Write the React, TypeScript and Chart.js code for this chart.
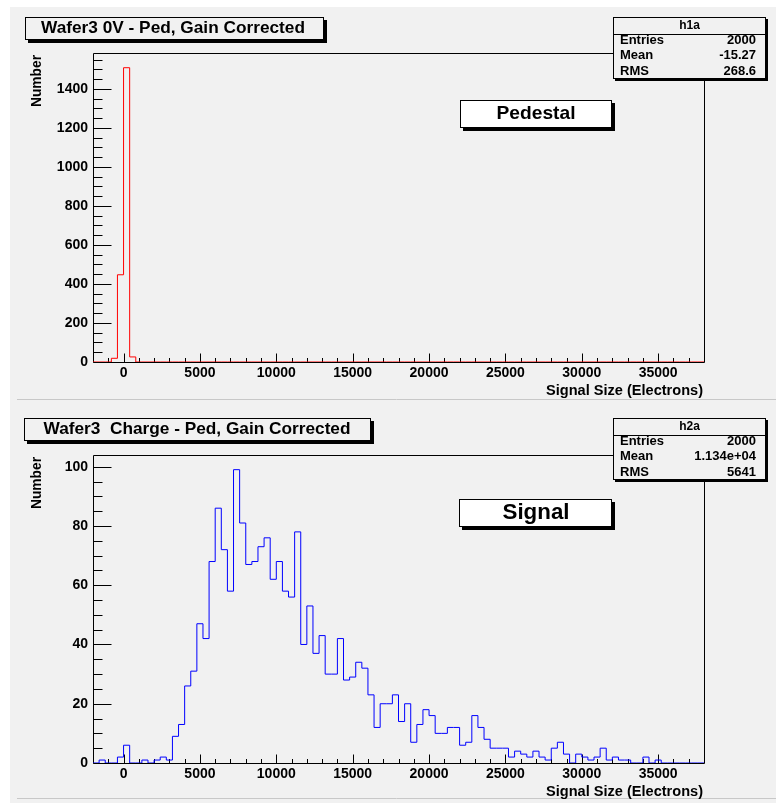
import React, { useEffect, useRef } from "react";
import { Chart, registerables } from "chart.js";

Chart.register(...registerables);

// ---- Histogram binning (100 bins of 400 electrons from -2000 to 38000) ----
const X_MIN = -2000;
const X_MAX = 38000;
const BIN_WIDTH = 400;

// ---- Data: h1a (pedestal) bin contents ----
const pedestalCounts = [
  0, 0, 0, 19, 447, 1508, 26, 0, 0, 0,
  0, 0, 0, 0, 0, 0, 0, 0, 0, 0,
  0, 0, 0, 0, 0, 0, 0, 0, 0, 0,
  0, 0, 0, 0, 0, 0, 0, 0, 0, 0,
  0, 0, 0, 0, 0, 0, 0, 0, 0, 0,
  0, 0, 0, 0, 0, 0, 0, 0, 0, 0,
  0, 0, 0, 0, 0, 0, 0, 0, 0, 0,
  0, 0, 0, 0, 0, 0, 0, 0, 0, 0,
  0, 0, 0, 0, 0, 0, 0, 0, 0, 0,
  0, 0, 0, 0, 0, 0, 0, 0, 0, 0,
];

// ---- Data: h2a (signal) bin contents ----
const signalCounts = [
  0, 1, 0, 0, 2, 6, 0, 0, 1, 0,
  1, 2, 1, 9, 13, 26, 31, 47, 42, 68,
  86, 72, 58, 99, 81, 67, 68, 73, 76, 62,
  68, 58, 56, 78, 40, 53, 37, 43, 30, 30,
  42, 28, 29, 34, 32, 23, 12, 20, 20, 23,
  14, 20, 7, 13, 18, 16, 10, 10, 12, 12,
  6, 7, 16, 12, 8, 5, 5, 5, 2, 4,
  3, 2, 4, 2, 1, 5, 7, 3, 0, 3,
  2, 1, 2, 5, 1, 2, 1, 1, 0, 0,
  2, 0, 1, 0, 0, 0, 0, 0, 0, 0,
];

// ---- Tick labels ----
const xTickValues = [0, 5000, 10000, 15000, 20000, 25000, 30000, 35000];
const pedYTickValues = [0, 200, 400, 600, 800, 1000, 1200, 1400];
const sigYTickValues = [0, 20, 40, 60, 80, 100];

// ---- Texts ----
const statNames = ["Entries", "Mean", "RMS"];
const pedStatValues = ["2000", "-15.27", "268.6"];
const sigStatValues = ["2000", "1.134e+04", "5641"];
const pedTitle = "Wafer3 0V - Ped, Gain Corrected";
const sigTitle = "Wafer3  Charge - Ped, Gain Corrected";
const xAxisTitle = "Signal Size (Electrons)";
const yAxisTitle = "Number";

const FONT = "'Liberation Sans', Arial, Helvetica, sans-serif";
const PANEL = "#f1f1f1";

function drawText(
  ctx: CanvasRenderingContext2D,
  text: string,
  x: number,
  y: number,
  size: number,
  align: CanvasTextAlign,
  targetW?: number,
  rotate?: boolean
) {
  ctx.save();
  ctx.font = `bold ${size}px ${FONT}`;
  const w = ctx.measureText(text).width;
  const sx = targetW ? targetW / w : 1;
  ctx.translate(x, y);
  if (rotate) ctx.rotate(-Math.PI / 2);
  ctx.scale(sx, 1);
  ctx.fillStyle = "#000";
  ctx.textBaseline = "middle";
  ctx.textAlign = align;
  ctx.fillText(text, 0, 0);
  ctx.restore();
}

function shadowBox(
  ctx: CanvasRenderingContext2D,
  x: number,
  y: number,
  w: number,
  h: number,
  fill: string,
  off: number
) {
  ctx.save();
  ctx.fillStyle = "#000";
  ctx.fillRect(x + off, y + off, w, h);
  ctx.fillStyle = fill;
  ctx.fillRect(x, y, w, h);
  ctx.strokeStyle = "#000";
  ctx.lineWidth = 1;
  ctx.strokeRect(x + 0.5, y + 0.5, w - 1, h - 1);
  ctx.restore();
}

type PanelCfg = {
  canvasH: number;
  panelTop: number;
  sepY: number;
  frameTop: number;
  frameBottom: number;
  color: string;
  counts: number[];
  yTicks: number[];
  yMinorStep: number;
  statsName: string;
  statsValues: string[];
  title: string;
  titleBox: [number, number, number, number];
  titleCx: number;
  titleW: number;
  statsBox: [number, number, number, number];
  labelText: string;
  labelBox: [number, number, number, number];
  labelCx: number;
  labelCy: number;
  labelSize: number;
  labelW: number;
  yTitleTop: number;
  xTitleCy: number;
};

function makeConfig(cfg: PanelCfg): any {
  // step outline: each bin edge carries the content of the bin it opens
  const points = cfg.counts.map((c, i) => ({ x: X_MIN + i * BIN_WIDTH, y: c }));
  points.push({ x: X_MAX, y: cfg.counts[cfg.counts.length - 1] });
  const yMax = 1.05 * Math.max(...cfg.counts);

  const plugin = {
    id: "rootStyle",
    beforeDraw(chart: any) {
      const ctx = chart.ctx as CanvasRenderingContext2D;
      ctx.save();
      ctx.fillStyle = "#ffffff";
      ctx.fillRect(0, 0, chart.width, chart.height);
      ctx.fillStyle = PANEL;
      ctx.fillRect(10, cfg.panelTop, chart.width - 10, chart.height - cfg.panelTop);
      ctx.strokeStyle = "#c8c8c8";
      ctx.lineWidth = 1;
      ctx.beginPath();
      ctx.moveTo(17, cfg.sepY);
      ctx.lineTo(chart.width, cfg.sepY);
      ctx.stroke();
      ctx.restore();
    },
    beforeDatasetsDraw(chart: any) {
      const ctx = chart.ctx as CanvasRenderingContext2D;
      const a = chart.chartArea;
      const xs = chart.scales.x;
      const ys = chart.scales.y;
      const L = Math.round(a.left) + 0.5;
      const R = Math.round(a.right) + 0.5;
      const T = Math.round(a.top) + 0.5;
      const B = Math.round(a.bottom) + 0.5;
      ctx.save();
      ctx.strokeStyle = "#000";
      ctx.lineWidth = 1;
      ctx.beginPath();
      ctx.moveTo(L, T);
      ctx.lineTo(R, T);
      ctx.lineTo(R, B);
      ctx.lineTo(L, B);
      ctx.closePath();
      ctx.stroke();
      // y ticks (inside)
      ctx.beginPath();
      for (let v = 0; v <= yMax; v += cfg.yMinorStep) {
        const p = Math.round(ys.getPixelForValue(v)) + 0.5;
        const major = cfg.yTicks.includes(v);
        ctx.moveTo(L, p);
        ctx.lineTo(L + (major ? 18 : 9), p);
      }
      // x ticks (inside)
      for (let v = -1000; v < X_MAX; v += 1000) {
        const p = Math.round(xs.getPixelForValue(v)) + 0.5;
        const major = xTickValues.includes(v);
        ctx.moveTo(p, B);
        ctx.lineTo(p, B - (major ? 9 : 4.5));
      }
      ctx.stroke();
      ctx.restore();
    },
    afterDraw(chart: any) {
      const ctx = chart.ctx as CanvasRenderingContext2D;
      // title box
      const [tx, ty, tw, th] = cfg.titleBox;
      shadowBox(ctx, tx, ty, tw, th, PANEL, 3);
      drawText(ctx, cfg.title, cfg.titleCx, ty + th / 2, 17, "center", cfg.titleW);
      // stats box
      const [sx, sy, sw, sh] = cfg.statsBox;
      shadowBox(ctx, sx, sy, sw, sh, PANEL, 2);
      drawText(ctx, cfg.statsName, sx + sw / 2, sy + 9, 12, "center");
      ctx.save();
      ctx.strokeStyle = "#000";
      ctx.lineWidth = 1;
      ctx.beginPath();
      ctx.moveTo(sx, Math.round(sy + 16.5) + 0.5);
      ctx.lineTo(sx + sw, Math.round(sy + 16.5) + 0.5);
      ctx.stroke();
      ctx.restore();
      const rowY = [23, 38.5, 54];
      statNames.forEach((n, i) => {
        drawText(ctx, n, sx + 7, sy + rowY[i], 13, "left");
        drawText(ctx, cfg.statsValues[i], sx + sw - 10, sy + rowY[i], 13, "right");
      });
      // label box
      const [lx, ly, lw, lh] = cfg.labelBox;
      shadowBox(ctx, lx, ly, lw, lh, "#ffffff", 3);
      drawText(ctx, cfg.labelText, cfg.labelCx, cfg.labelCy, cfg.labelSize, "center", cfg.labelW);
      // axis titles
      drawText(ctx, yAxisTitle, 37, cfg.yTitleTop, 14, "right", 52, true);
      drawText(ctx, xAxisTitle, 703, cfg.xTitleCy, 14, "right", 157);
    },
  };

  const tickFont = { family: FONT, size: 14, weight: "bold" as const };

  return {
    type: "line",
    data: {
      datasets: [
        {
          data: points,
          borderColor: cfg.color,
          borderWidth: 1,
          pointRadius: 0,
          stepped: "before",
          fill: false,
        },
      ],
    },
    options: {
      animation: false,
      responsive: false,
      maintainAspectRatio: false,
      events: [],
      layout: { padding: { left: 0, top: cfg.frameTop, right: 776 - 704, bottom: 0 } },
      plugins: {
        legend: { display: false },
        tooltip: { enabled: false },
        title: { display: false },
      },
      scales: {
        x: {
          type: "linear",
          min: X_MIN,
          max: X_MAX,
          grid: { display: false, drawTicks: false },
          border: { display: false },
          ticks: {
            padding: 3,
            color: "#000",
            font: tickFont,
            maxRotation: 0,
            autoSkip: false,
            callback: (v: any) => String(v),
          },
          afterBuildTicks: (s: any) => {
            s.ticks = xTickValues.map((v) => ({ value: v }));
          },
          afterFit: (s: any) => {
            s.height = cfg.canvasH - cfg.frameBottom;
            s.paddingLeft = 0;
            s.paddingRight = 0;
            s.paddingTop = 0;
            s.paddingBottom = 0;
          },
        },
        y: {
          type: "linear",
          min: 0,
          max: yMax,
          grid: { display: false, drawTicks: false },
          border: { display: false },
          ticks: {
            padding: 5,
            color: "#000",
            font: tickFont,
            autoSkip: false,
            callback: (v: any) => String(v),
          },
          afterBuildTicks: (s: any) => {
            s.ticks = cfg.yTicks.map((v) => ({ value: v }));
          },
          afterFit: (s: any) => {
            s.width = 93;
            s.paddingLeft = 0;
            s.paddingRight = 0;
            s.paddingTop = 0;
            s.paddingBottom = 0;
          },
        },
      },
    },
    plugins: [plugin],
  };
}

const topCfg: PanelCfg = {
  canvasH: 400,
  panelTop: 7,
  sepY: 399.5,
  frameTop: 53,
  frameBottom: 362,
  color: "#ff0000",
  counts: pedestalCounts,
  yTicks: pedYTickValues,
  yMinorStep: 50,
  statsName: "h1a",
  statsValues: pedStatValues,
  title: pedTitle,
  titleBox: [25, 17, 299, 23],
  titleCx: 173,
  titleW: 264,
  statsBox: [613, 17, 153, 62],
  labelText: "Pedestal",
  labelBox: [460, 100, 152, 28],
  labelCx: 536,
  labelCy: 114,
  labelSize: 19,
  labelW: 79,
  yTitleTop: 55,
  xTitleCy: 391,
};

const botCfg: PanelCfg = {
  canvasH: 403,
  panelTop: 0,
  sepY: 398.5,
  frameTop: 55,
  frameBottom: 363,
  color: "#0000ff",
  counts: signalCounts,
  yTicks: sigYTickValues,
  yMinorStep: 5,
  statsName: "h2a",
  statsValues: sigStatValues,
  title: sigTitle,
  titleBox: [24, 18, 347, 23],
  titleCx: 197,
  titleW: 307,
  statsBox: [613, 18, 153, 62],
  labelText: "Signal",
  labelBox: [459, 99, 153, 28],
  labelCx: 536,
  labelCy: 113,
  labelSize: 22,
  labelW: 67,
  yTitleTop: 57,
  xTitleCy: 392,
};

export default function App() {
  const topRef = useRef<HTMLCanvasElement>(null);
  const botRef = useRef<HTMLCanvasElement>(null);

  useEffect(() => {
    const c1 = new Chart(topRef.current as HTMLCanvasElement, makeConfig(topCfg));
    const c2 = new Chart(botRef.current as HTMLCanvasElement, makeConfig(botCfg));
    return () => {
      c1.destroy();
      c2.destroy();
    };
  }, []);

  return (
    <div
      style={{
        position: "absolute",
        left: 0,
        top: 0,
        width: 776,
        height: 803,
        background: "#ffffff",
        overflow: "hidden",
      }}
    >
      <canvas
        ref={topRef}
        width={776}
        height={400}
        style={{ position: "absolute", left: 0, top: 0, width: 776, height: 400 }}
      />
      <canvas
        ref={botRef}
        width={776}
        height={403}
        style={{ position: "absolute", left: 0, top: 400, width: 776, height: 403 }}
      />
    </div>
  );
}
